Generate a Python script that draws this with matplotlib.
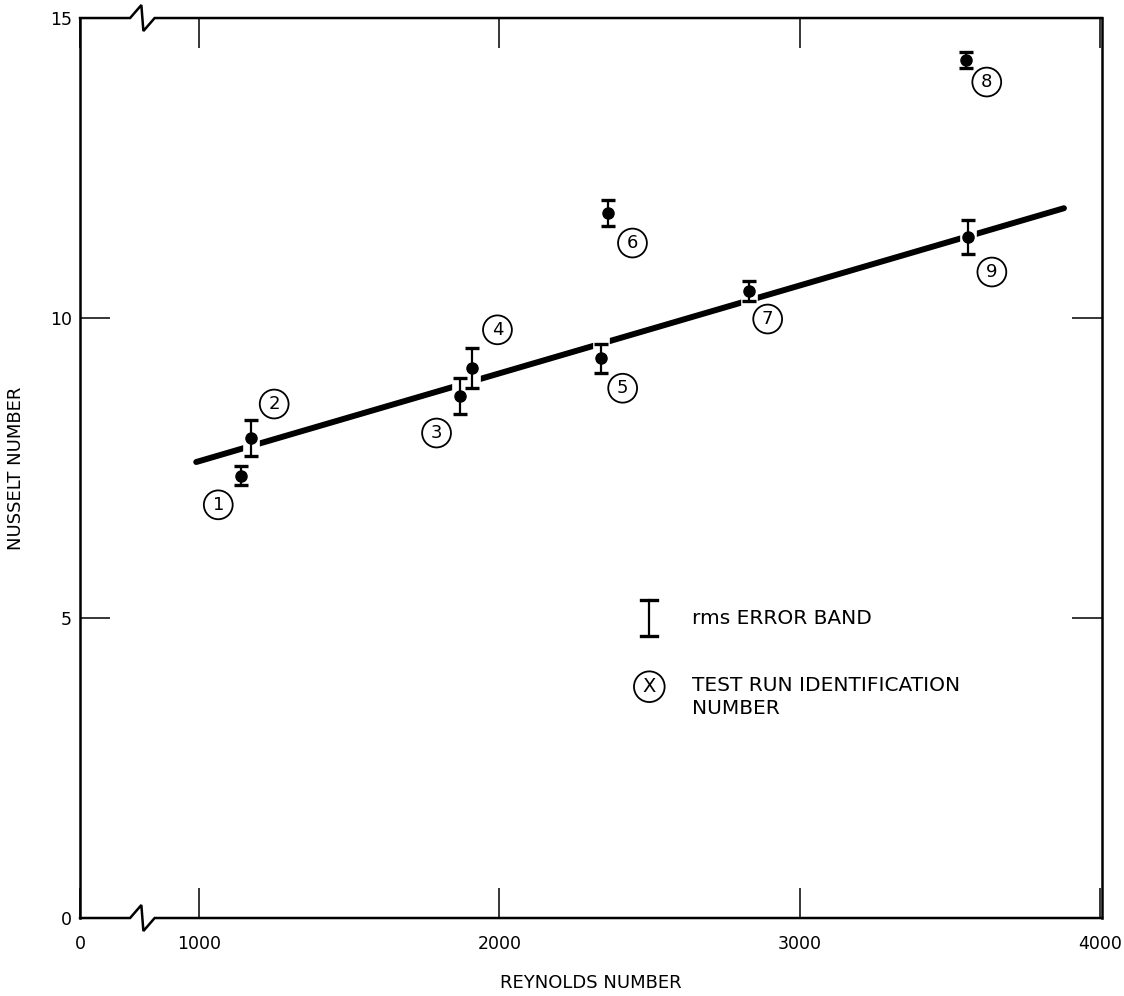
import matplotlib.pyplot as plt

plt.rcParams['font.family'] = ['DejaVu Sans']

# Test runs
run_id = ['1', '2', '3', '4', '5', '6', '7', '8', '9']
reynolds = [1140, 1173, 1867, 1910, 2337, 2363, 2830, 3553, 3560]
nusselt = [7.37, 8.0, 8.7, 9.17, 9.33, 11.75, 10.45, 14.3, 11.35]
rms_err = [0.16, 0.30, 0.30, 0.33, 0.24, 0.22, 0.17, 0.14, 0.28]

# Correlation line
fit_re = [990, 3880]
fit_nu = [7.6, 11.83]

# Broken axis: the left edge stands for Re = 0
x_ticks = [603, 1000, 2000, 3000, 4000]
x_ticklabels = ['0', '1000', '2000', '3000', '4000']
y_ticks = [0, 5, 10, 15]

# where the circled run numbers sit relative to their point (pixels)
label_offsets = [(-23, -29), (23, 34), (-23, -37), (25, 38), (22, -30),
                 (24, -30), (19, -28), (21, -22), (24, -35)]


def broken_spine(ax, y):
    h = 13 / 900.
    xs = [0, 0.049, 0.060, 0.062, 0.073, 1]
    ys = [y, y, y + h, y - h, y, y]
    ax.plot(xs, ys, color='k', lw=1.8, transform=ax.transAxes,
            clip_on=False, zorder=5, solid_joinstyle='miter')


def circled(ax, x, y, s, size=13, **kw):
    ax.text(x, y, s, ha='center', va='center', fontsize=size,
            bbox=dict(boxstyle='circle,pad=0.3', fc='none', ec='k', lw=1.3),
            **kw)


def nusselt_plot():
    fig = plt.figure(figsize=(11.24, 9.96), dpi=100)
    ax = fig.add_axes([0.0712, 0.0783, 0.9093, 0.9036])

    ax.plot(fit_re, fit_nu, color='k', lw=4.3, solid_capstyle='round',
            zorder=2)
    # white gaps in the line where it meets an error bar
    lo = [n - e - 0.15 for n, e in zip(nusselt, rms_err)]
    hi = [n + e + 0.15 for n, e in zip(nusselt, rms_err)]
    ax.vlines(reynolds, lo, hi, color='white', lw=12, zorder=3)
    ax.errorbar(reynolds, nusselt, yerr=rms_err, fmt='o', color='k', ms=8,
                elinewidth=1.6, capsize=5, capthick=2.4, zorder=4)

    for re, nu, s, (dx, dy) in zip(reynolds, nusselt, run_id, label_offsets):
        ax.annotate(s, (re, nu), xytext=(dx, dy), textcoords='offset pixels',
                    ha='center', va='center', fontsize=13,
                    bbox=dict(boxstyle='circle,pad=0.3', fc='none',
                              ec='k', lw=1.3))

    # key
    kx, ky, kh = 0.557, 0.333, 0.02
    ax.plot([kx, kx], [ky - kh, ky + kh], color='k', lw=1.6,
            transform=ax.transAxes)
    for yy in (ky - kh, ky + kh):
        ax.plot([kx - 0.008, kx + 0.008], [yy, yy], color='k', lw=2.4,
                transform=ax.transAxes)
    ax.text(0.599, ky, 'rms ERROR BAND', transform=ax.transAxes,
            va='center', fontsize=14.5)
    circled(ax, kx, 0.257, 'X', size=14, transform=ax.transAxes)
    ax.text(0.599, 0.257 + 0.012, 'TEST RUN IDENTIFICATION\nNUMBER',
            transform=ax.transAxes, va='top', fontsize=14.5, linespacing=1.3)

    ax.set_xlim(603, 4007)
    ax.set_ylim(0, 15)
    ax.set_xticks(x_ticks)
    ax.set_xticklabels(x_ticklabels)
    ax.set_yticks(y_ticks)
    ax.tick_params(direction='in', length=21.6, width=1.1, labelsize=12.5,
                   top=True, right=True)
    ax.tick_params(axis='x', pad=12)
    ax.tick_params(axis='y', pad=6)
    for side in ('left', 'right'):
        ax.spines[side].set_linewidth(1.8)
    for side in ('top', 'bottom'):
        ax.spines[side].set_visible(False)
    broken_spine(ax, 0)
    broken_spine(ax, 1)

    ax.set_xlabel('REYNOLDS NUMBER', fontsize=13, labelpad=15)
    ax.set_ylabel('NUSSELT NUMBER', fontsize=13, labelpad=18)

    fig.savefig('out.png', dpi=100)


if __name__ == '__main__':
    nusselt_plot()
